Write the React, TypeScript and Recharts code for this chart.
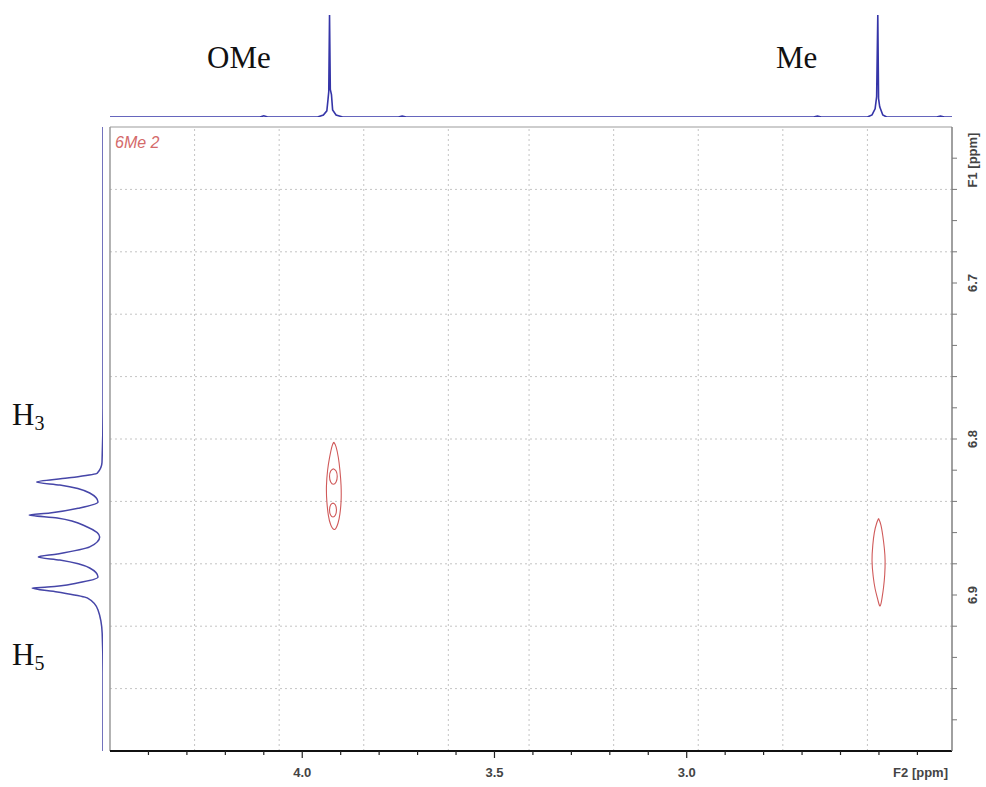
import { ComposedChart, LineChart, Line, XAxis, YAxis, ReferenceLine } from 'recharts';

// axis ranges (ppm)
const F2_DOMAIN: [number, number] = [2.31, 4.5];
const F1_DOMAIN: [number, number] = [6.6, 7.0];

const f2Ticks = [4.4, 4.3, 4.2, 4.1, 4.0, 3.9, 3.8, 3.7, 3.6, 3.5, 3.4, 3.3, 3.2, 3.1, 3.0, 2.9, 2.8, 2.7, 2.6, 2.5, 2.4];
const f2Labels = [4.0, 3.5, 3.0];
const f1Ticks = [6.62, 6.64, 6.66, 6.68, 6.7, 6.72, 6.74, 6.76, 6.78, 6.8, 6.82, 6.84, 6.86, 6.88, 6.9, 6.92, 6.94, 6.96, 6.98];
const f1Labels = [6.7, 6.8, 6.9];
const f2Grid = [4.28, 4.06, 3.84, 3.62, 3.41, 3.19, 2.97, 2.75, 2.53];
const f1Grid = [6.64, 6.68, 6.72, 6.76, 6.8, 6.84, 6.88, 6.92, 6.96];

// 1D projection on F2 (top)
const topSpectrum = [
  { ppm: 4.5, intensity: 0 }, { ppm: 4.11, intensity: 0 }, { ppm: 4.1, intensity: 0.012 }, { ppm: 4.09, intensity: 0 },
  { ppm: 3.96, intensity: 0 }, { ppm: 3.945, intensity: 0.02 }, { ppm: 3.936, intensity: 0.06 }, { ppm: 3.933, intensity: 0.17 },
  { ppm: 3.931, intensity: 0.25 }, { ppm: 3.929, intensity: 1.0 }, { ppm: 3.927, intensity: 0.27 }, { ppm: 3.924, intensity: 0.22 },
  { ppm: 3.921, intensity: 0.07 }, { ppm: 3.912, intensity: 0.02 }, { ppm: 3.895, intensity: 0 },
  { ppm: 3.75, intensity: 0 }, { ppm: 3.74, intensity: 0.01 }, { ppm: 3.73, intensity: 0 },
  { ppm: 2.67, intensity: 0 }, { ppm: 2.66, intensity: 0.01 }, { ppm: 2.65, intensity: 0 },
  { ppm: 2.53, intensity: 0 }, { ppm: 2.518, intensity: 0.02 }, { ppm: 2.51, intensity: 0.08 }, { ppm: 2.506, intensity: 0.2 },
  { ppm: 2.503, intensity: 1.0 }, { ppm: 2.501, intensity: 0.18 }, { ppm: 2.498, intensity: 0.1 }, { ppm: 2.49, intensity: 0.02 },
  { ppm: 2.48, intensity: 0 }, { ppm: 2.35, intensity: 0 }, { ppm: 2.34, intensity: 0.01 }, { ppm: 2.33, intensity: 0 }, { ppm: 2.31, intensity: 0 },
];

// 1D projection on F1 (left)
const leftSpectrum = [
  { ppm: 6.6, intensity: 0 }, { ppm: 6.78, intensity: 0 }, { ppm: 6.815, intensity: 0.012 }, { ppm: 6.822, intensity: 0.07 },
  { ppm: 6.825, intensity: 0.43 }, { ppm: 6.8276, intensity: 0.8 }, { ppm: 6.8295, intensity: 0.52 }, { ppm: 6.8346, intensity: 0.16 },
  { ppm: 6.8404, intensity: 0.06 }, { ppm: 6.8442, intensity: 0.28 }, { ppm: 6.8474, intensity: 0.64 }, { ppm: 6.8487, intensity: 0.89 },
  { ppm: 6.8506, intensity: 0.55 }, { ppm: 6.8564, intensity: 0.19 }, { ppm: 6.8628, intensity: 0.04 }, { ppm: 6.8692, intensity: 0.16 },
  { ppm: 6.8737, intensity: 0.55 }, { ppm: 6.8756, intensity: 0.78 }, { ppm: 6.8776, intensity: 0.52 }, { ppm: 6.8827, intensity: 0.16 },
  { ppm: 6.8885, intensity: 0.06 }, { ppm: 6.8923, intensity: 0.31 }, { ppm: 6.8949, intensity: 0.67 }, { ppm: 6.8955, intensity: 0.855 },
  { ppm: 6.8981, intensity: 0.55 }, { ppm: 6.9019, intensity: 0.19 }, { ppm: 6.9096, intensity: 0.06 }, { ppm: 6.9244, intensity: 0.01 },
  { ppm: 6.95, intensity: 0 }, { ppm: 7.0, intensity: 0 },
];

// cross peak contours (f2, f1)
const omeOuter = [
  { f2: 3.918, f1: 6.802 }, { f2: 3.912, f1: 6.805 }, { f2: 3.906, f1: 6.812 }, { f2: 3.902, f1: 6.82 },
  { f2: 3.899, f1: 6.83 }, { f2: 3.899, f1: 6.84 }, { f2: 3.902, f1: 6.848 }, { f2: 3.907, f1: 6.854 },
  { f2: 3.916, f1: 6.858 }, { f2: 3.926, f1: 6.855 }, { f2: 3.932, f1: 6.849 }, { f2: 3.936, f1: 6.84 },
  { f2: 3.937, f1: 6.83 }, { f2: 3.934, f1: 6.82 }, { f2: 3.929, f1: 6.812 }, { f2: 3.923, f1: 6.805 }, { f2: 3.918, f1: 6.802 },
];
const omeInner1 = [
  { f2: 3.919, f1: 6.819 }, { f2: 3.912, f1: 6.8205 }, { f2: 3.909, f1: 6.824 }, { f2: 3.912, f1: 6.8275 },
  { f2: 3.919, f1: 6.829 }, { f2: 3.926, f1: 6.8275 }, { f2: 3.929, f1: 6.824 }, { f2: 3.926, f1: 6.8205 }, { f2: 3.919, f1: 6.819 },
];
const omeInner2 = [
  { f2: 3.92, f1: 6.841 }, { f2: 3.9137, f1: 6.8423 }, { f2: 3.911, f1: 6.8455 }, { f2: 3.9137, f1: 6.8487 },
  { f2: 3.92, f1: 6.85 }, { f2: 3.9263, f1: 6.8487 }, { f2: 3.929, f1: 6.8455 }, { f2: 3.9263, f1: 6.8423 }, { f2: 3.92, f1: 6.841 },
];
const meContour = [
  { f2: 2.501, f1: 6.851 }, { f2: 2.495, f1: 6.855 }, { f2: 2.49, f1: 6.862 }, { f2: 2.486, f1: 6.87 },
  { f2: 2.484, f1: 6.878 }, { f2: 2.485, f1: 6.887 }, { f2: 2.488, f1: 6.895 }, { f2: 2.492, f1: 6.902 },
  { f2: 2.497, f1: 6.907 }, { f2: 2.503, f1: 6.903 }, { f2: 2.51, f1: 6.896 }, { f2: 2.515, f1: 6.888 },
  { f2: 2.518, f1: 6.878 }, { f2: 2.516, f1: 6.868 }, { f2: 2.512, f1: 6.86 }, { f2: 2.506, f1: 6.854 }, { f2: 2.501, f1: 6.851 },
];

const contours = [omeOuter, omeInner1, omeInner2, meContour];

const AXIS_FONT = '"Liberation Sans", Arial, sans-serif';
const SERIF = '"Liberation Serif", "Times New Roman", serif';
const isIn = (list: number[], v: number) => list.some((m) => Math.abs(m - v) < 1e-6);

function F2Tick(props: any) {
  const { x, y, payload } = props;
  const v = payload.value;
  const major = isIn(f2Labels, v);
  return (
    <g>
      <line x1={x} y1={y} x2={x} y2={y + (major ? 7 : 4)} stroke="#222" strokeWidth={1.2} />
      {major && (
        <text x={x} y={y + 26} textAnchor="middle" fontFamily={AXIS_FONT} fontSize={13} fontWeight="bold" fill="#444">
          {v.toFixed(1)}
        </text>
      )}
    </g>
  );
}

function F1Tick(props: any) {
  const { x, y, payload } = props;
  const v = payload.value;
  const major = isIn(f1Labels, v);
  return (
    <g>
      <line x1={x} y1={y} x2={x + 5} y2={y} stroke="#777" strokeWidth={1} />
      {major && (
        <text x={x + 25} y={y} transform={`rotate(-90 ${x + 25} ${y})`} textAnchor="middle" fontFamily={AXIS_FONT} fontSize={13} fontWeight="bold" fill="#444">
          {v.toFixed(1)}
        </text>
      )}
    </g>
  );
}

export default function App() {
  return (
    <div style={{ position: 'absolute', left: 0, top: 0, width: 986, height: 787, background: '#fff', overflow: 'hidden' }}>
      <div style={{ position: 'absolute', left: 0, top: 0 }}>
        <ComposedChart width={986} height={787} margin={{ top: 127, left: 110, right: 4, bottom: 6 }}>
          <XAxis
            type="number"
            dataKey="f2"
            domain={F2_DOMAIN}
            allowDataOverflow
            reversed
            ticks={f2Ticks}
            interval={0}
            tick={<F2Tick />}
            tickLine={false}
            tickSize={0}
            tickMargin={0}
            height={30}
            axisLine={{ stroke: '#111', strokeWidth: 2 }}
          />
          <YAxis
            type="number"
            orientation="right"
            domain={F1_DOMAIN}
            allowDataOverflow
            reversed
            ticks={f1Ticks}
            interval={0}
            tick={<F1Tick />}
            tickLine={false}
            tickSize={0}
            tickMargin={0}
            width={30}
            axisLine={{ stroke: '#808080', strokeWidth: 1.5 }}
          />
          {f2Grid.map((v) => (
            <ReferenceLine key={`gx${v}`} x={v} stroke="#c4c4c4" strokeDasharray="2 3" />
          ))}
          {f1Grid.map((v) => (
            <ReferenceLine key={`gy${v}`} y={v} stroke="#c4c4c4" strokeDasharray="2 3" />
          ))}
          <ReferenceLine y={F1_DOMAIN[0]} stroke="#bdbdbd" strokeWidth={1.5} />
          <ReferenceLine x={F2_DOMAIN[1]} stroke="#9a9a9a" strokeWidth={1.5} />
          {contours.map((c, i) => (
            <Line
              key={`c${i}`}
              data={c}
              dataKey="f1"
              type="natural"
              stroke="#d05a5a"
              strokeWidth={1.1}
              dot={false}
              isAnimationActive={false}
            />
          ))}
        </ComposedChart>
      </div>

      <div style={{ position: 'absolute', left: 0, top: 0 }}>
        <LineChart width={986} height={127} data={topSpectrum} margin={{ top: 15, left: 110, right: 34, bottom: 10 }}>
          <XAxis type="number" dataKey="ppm" domain={F2_DOMAIN} allowDataOverflow reversed hide />
          <YAxis type="number" domain={[0, 1]} allowDataOverflow hide />
          <Line dataKey="intensity" type="linear" stroke="#3535a8" strokeWidth={1.6} dot={false} isAnimationActive={false} />
        </LineChart>
      </div>

      <div style={{ position: 'absolute', left: 0, top: 0 }}>
        <LineChart width={110} height={787} data={leftSpectrum} margin={{ top: 127, left: 20, right: 7, bottom: 36 }}>
          <XAxis type="number" dataKey="intensity" domain={[0, 1]} allowDataOverflow reversed hide />
          <YAxis type="number" domain={F1_DOMAIN} allowDataOverflow reversed hide />
          <Line dataKey="ppm" type="monotoneY" stroke="#4646a8" strokeWidth={1.5} dot={false} isAnimationActive={false} />
        </LineChart>
      </div>

      <svg width={986} height={787} style={{ position: 'absolute', left: 0, top: 0, pointerEvents: 'none' }}>
        <text x={207} y={68} fontFamily={SERIF} fontSize={31} fill="#111">OMe</text>
        <text x={776} y={68} fontFamily={SERIF} fontSize={31} fill="#111">Me</text>
        <text x={12} y={425} fontFamily={SERIF} fontSize={31} fill="#111">
          H<tspan fontSize={20} dy={5}>3</tspan>
        </text>
        <text x={12} y={665} fontFamily={SERIF} fontSize={31} fill="#111">
          H<tspan fontSize={20} dy={5}>5</tspan>
        </text>
        <text x={115} y={148} fontFamily={AXIS_FONT} fontSize={16} fontStyle="italic" fill="#d46a6a">6Me 2</text>
        <text x={948} y={777} textAnchor="end" fontFamily={AXIS_FONT} fontSize={13} fontWeight="bold" fill="#444">F2 [ppm]</text>
        <text x={977} y={160} transform="rotate(-90 977 160)" textAnchor="middle" fontFamily={AXIS_FONT} fontSize={13} fontWeight="bold" fill="#444">F1 [ppm]</text>
      </svg>
    </div>
  );
}
